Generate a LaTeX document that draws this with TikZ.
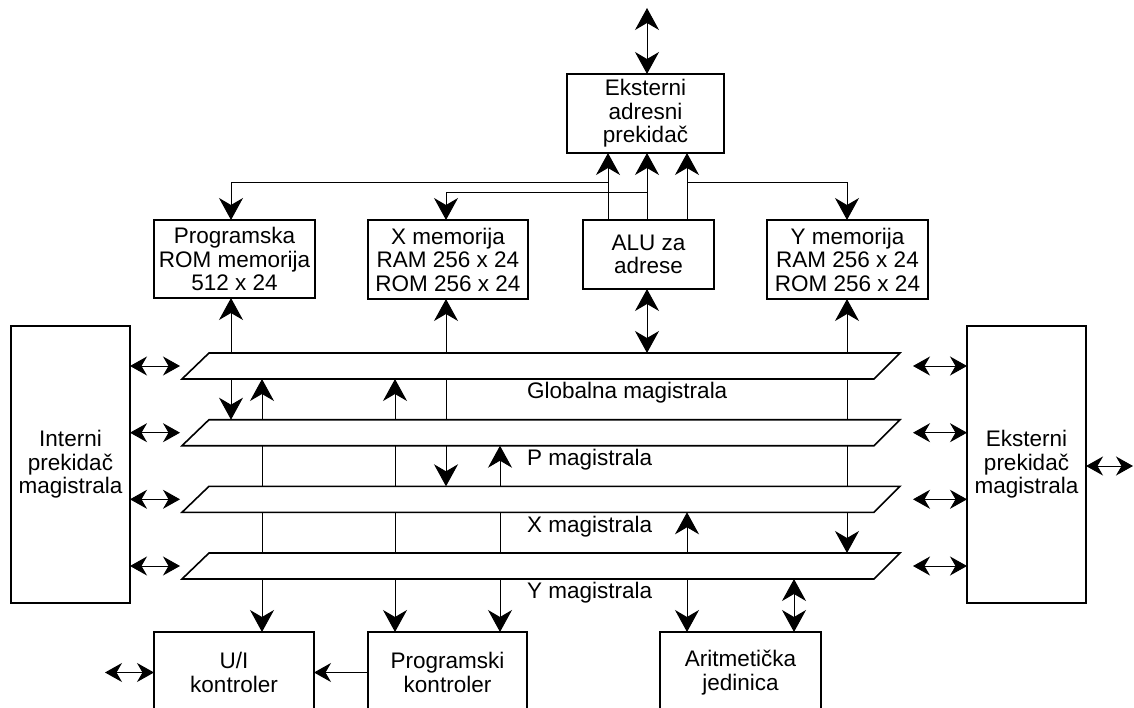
\documentclass[tikz,border=0pt]{standalone}
\usepackage{fontspec}
\setmainfont{Liberation Sans}
\usetikzlibrary{arrows.meta,calc}
\pgfdeclarelayer{bg}
\pgfsetlayers{bg,main}
\begin{document}
\begin{tikzpicture}[x=1pt,y=-1pt,
  txt/.style={font=\fontsize{22.5pt}{23.5pt}\selectfont},
  block/.style={txt,draw,line width=1.8pt,align=center,inner sep=0pt,outer sep=0pt},
  busarea/.style={minimum width=718pt,minimum height=26pt,inner sep=0pt,outer sep=0pt},
  busline/.style={draw,fill=white,line width=1.6pt,line join=miter},
  buslabel/.style={txt,anchor=west,inner sep=0pt},
  link/.style={line width=1pt},
  big/.tip={Stealth[length=22pt,width=24pt,inset=7pt]},
  small/.tip={Stealth[length=17pt,width=19pt,inset=5.5pt]},
  uni/.style={link,-big},
  bi/.style={link,big-big},
  sbi/.style={link,small-small},
]
\useasboundingbox (0,0) rectangle (1134,708);
\clip (0,0) rectangle (1134,708);

% ---- blocks ----
\node[block,minimum width=157pt,minimum height=79pt] (eas) at (645.5,113.5) {Eksterni\\adresni\\prekidač};
\node[block,minimum width=161pt,minimum height=78pt] (prom) at (234.5,259) {Programska\\ROM memorija\\512 x 24};
\node[block,minimum width=160pt,minimum height=79pt] (xmem) at (448,259.5) {X memorija\\RAM 256 x 24\\ROM 256 x 24};
\node[block,minimum width=131pt,minimum height=69pt] (alu) at (648.5,254.5) {ALU za\\adrese};
\node[block,minimum width=161pt,minimum height=79pt] (ymem) at (847.5,259.5) {Y memorija\\RAM 256 x 24\\ROM 256 x 24};
\node[block,minimum width=119pt,minimum height=277pt] (isw) at (70.5,464.5) {Interni\\prekidač\\magistrala};
\node[block,minimum width=119pt,minimum height=277pt] (esw) at (1026.5,464.5) {Eksterni\\prekidač\\magistrala};
\node[block,minimum width=160pt,minimum height=81pt] (uio) at (234,672.5) {U/I\\kontroler};
\node[block,minimum width=159pt,minimum height=81pt] (pctl) at (447.5,672.5) {Programski\\kontroler};
\node[block,minimum width=161pt,minimum height=81pt] (arit) at (740.5,672.5) {Aritmetička\\jedinica};

% ---- buses ----
\foreach \b/\y in {gbus/366,pbus/432.7,xbus/499.3,ybus/566}{
  \node[busarea] (\b) at (541,\y) {};
  \path[busline] (\b.south west) -- ($(\b.north west)+(27,0)$) -- (\b.north east)
    -- ($(\b.south east)+(-26,0)$) -- cycle;
}
\node[buslabel] (lg) at (527,393) {Globalna magistrala};
\node[buslabel] (lp) at (527,460) {P magistrala};
\node[buslabel] (lx) at (527,527) {X magistrala};
\node[buslabel] (ly) at (527,593) {Y magistrala};

% ---- free ends and junctions ----
\coordinate (top) at (647,8);
\coordinate (j1) at (608,183);
\coordinate (j2) at (647,193);
\coordinate (j3) at (687,183);
\coordinate (uleft) at (105,672.5);
\coordinate (eright) at (1133,466);

\begin{pgfonlayer}{bg}
% address paths
\draw[bi] (eas.north -| 647,0) -- (top);
\draw[uni] (alu.north -| 608,0) -- (eas.south -| 608,0);
\draw[uni] (alu.north -| 647,0) -- (eas.south -| 647,0);
\draw[uni] (alu.north -| 687,0) -- (eas.south -| 687,0);
\draw[uni] (j1) -| (prom.north -| 231,0);
\draw[uni] (j2) -| (xmem.north -| 446,0);
\draw[uni] (j3) -| (ymem.north -| 847,0);
\draw[bi] (alu.south -| 647,0) -- (gbus.north -| 647,0);

% memories to buses
\draw[bi] (prom.south -| 231,0) -- (pbus.north -| 231,0);
\draw[bi] (xmem.south -| 446,0) -- (xbus.north -| 446,0);
\draw[bi] (ymem.south -| 847,0) -- (ybus.north -| 847,0);

% buses to controllers and arithmetic unit
\draw[bi] (gbus.south -| 262,0) -- (uio.north -| 262,0);
\draw[bi] (gbus.south -| 395,0) -- (pctl.north -| 395,0);
\draw[bi] (pbus.south -| 500,0) -- (pctl.north -| 500,0);
\draw[bi] (xbus.south -| 687,0) -- (arit.north -| 687,0);
\draw[bi] (ybus.south -| 794,0) -- (arit.north -| 794,0);

% bus switches
\foreach \b in {gbus,pbus,xbus,ybus}{
  \draw[sbi] (isw.east |- \b.west) -- ($(\b.west)+(-2,0)$);
  \draw[sbi] (esw.west |- \b.east) -- ($(\b.east)+(13,0)$);
}
\draw[sbi] (esw.east |- eright) -- (eright);

% controllers
\draw[link,-small] (pctl.west) -- (uio.east);
\draw[sbi] (uio.west) -- (uleft);
\end{pgfonlayer}
\end{tikzpicture}
\end{document}
